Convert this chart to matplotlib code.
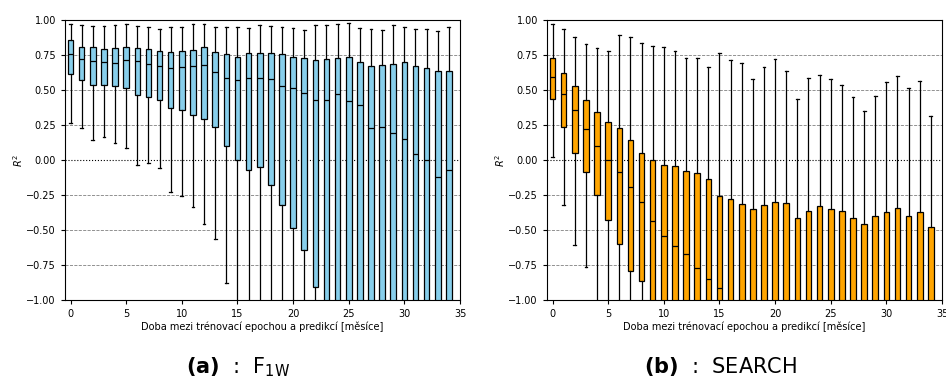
import matplotlib
matplotlib.use('Agg')
import matplotlib.pyplot as plt
import numpy as np

# months between training epoch and prediction
months = list(range(35))

# F_1W (left panel) box statistics
f1w_q3 = [0.857, 0.805, 0.81, 0.795, 0.802, 0.805, 0.80, 0.795, 0.781, 0.769,
          0.776, 0.788, 0.81, 0.774, 0.757, 0.733, 0.762, 0.764, 0.767, 0.755,
          0.736, 0.731, 0.712, 0.719, 0.726, 0.736, 0.70, 0.671, 0.679, 0.686,
          0.70, 0.671, 0.655, 0.636, 0.636]
f1w_med = [0.757, 0.719, 0.71, 0.70, 0.695, 0.717, 0.705, 0.683, 0.669, 0.655,
           0.662, 0.669, 0.681, 0.626, 0.588, 0.569, 0.583, 0.583, 0.576, 0.526,
           0.512, 0.479, 0.429, 0.431, 0.469, 0.421, 0.39, 0.226, 0.236, 0.193,
           0.148, 0.04, 0.002, -0.119, -0.074]
f1w_q1 = [0.614, 0.571, 0.533, 0.538, 0.529, 0.517, 0.462, 0.45, 0.426, 0.371,
          0.36, 0.324, 0.29, 0.236, 0.10, -0.002, -0.074, -0.052, -0.181, -0.324,
          -0.483, -0.645, -0.905, -1.1, -1.15, -1.2, -1.2, -1.3, -1.3, -1.35,
          -1.4, -1.5, -1.5, -1.6, -1.6]
f1w_hi = [0.969, 0.962, 0.955, 0.955, 0.964, 0.971, 0.955, 0.948, 0.938, 0.948,
          0.952, 0.969, 0.974, 0.952, 0.948, 0.948, 0.945, 0.967, 0.955, 0.948,
          0.943, 0.926, 0.964, 0.967, 0.971, 0.981, 0.945, 0.933, 0.931, 0.964,
          0.948, 0.933, 0.936, 0.919, 0.95]
f1w_lo = [0.262, 0.231, 0.143, 0.164, 0.119, 0.086, -0.036, -0.021, -0.055, -0.229,
          -0.255, -0.338, -0.46, -0.567, -0.881, -1.4, -1.5, -1.5, -1.7, -1.9,
          -2.2, -2.5, -2.9, -3.0, -3.0, -3.1, -3.2, -3.3, -3.3, -3.4,
          -3.5, -3.6, -3.6, -3.7, -3.8]

# SEARCH (right panel)
search_q3 = [0.729, 0.619, 0.529, 0.429, 0.340, 0.269, 0.226, 0.14, 0.048, -0.002,
             -0.033, -0.04, -0.076, -0.09, -0.133, -0.26, -0.276, -0.317, -0.35, -0.324,
             -0.298, -0.31, -0.417, -0.367, -0.329, -0.348, -0.367, -0.412, -0.46, -0.398,
             -0.369, -0.343, -0.398, -0.374, -0.476]
search_med = [0.59, 0.471, 0.355, 0.221, 0.102, -0.002, -0.083, -0.195, -0.302, -0.433,
              -0.545, -0.617, -0.671, -0.774, -0.852, -0.912, -1.05, -1.1, -1.15, -1.1,
              -1.1, -1.1, -1.2, -1.2, -1.15, -1.15, -1.2, -1.25, -1.3, -1.25,
              -1.2, -1.2, -1.25, -1.25, -1.35]
search_q1 = [0.438, 0.233, 0.052, -0.088, -0.252, -0.429, -0.602, -0.79, -0.867, -1.1,
             -1.2, -1.3, -1.4, -1.5, -1.6, -1.8, -2.0, -2.1, -2.2, -2.2,
             -2.2, -2.2, -2.4, -2.4, -2.3, -2.3, -2.4, -2.5, -2.6, -2.5,
             -2.4, -2.4, -2.5, -2.5, -2.7]
search_hi = [0.969, 0.933, 0.876, 0.826, 0.802, 0.781, 0.893, 0.881, 0.838, 0.817,
             0.81, 0.781, 0.731, 0.729, 0.662, 0.767, 0.712, 0.695, 0.579, 0.662,
             0.721, 0.636, 0.438, 0.583, 0.607, 0.579, 0.533, 0.448, 0.352, 0.460,
             0.555, 0.598, 0.512, 0.564, 0.317]
search_lo = [0.019, -0.321, -0.607, -0.767, -1.1, -1.3, -1.5, -1.8, -2.0, -2.3,
             -2.5, -2.7, -2.9, -3.0, -3.2, -3.5, -3.8, -4.0, -4.2, -4.2,
             -4.2, -4.2, -4.5, -4.5, -4.4, -4.4, -4.5, -4.7, -4.9, -4.7,
             -4.5, -4.5, -4.7, -4.7, -5.0]

xlabel = 'Doba mezi trénovací epochou a predikcí [měsíce]'
yticks = [-1.0, -0.75, -0.5, -0.25, 0.0, 0.25, 0.5, 0.75, 1.0]


def make_stats(q1, med, q3, lo, hi):
    return [dict(q1=a, med=b, q3=c, whislo=d, whishi=e, fliers=[])
            for a, b, c, d, e in zip(q1, med, q3, lo, hi)]


def draw_panel(ax, stats, color):
    for t in yticks[1:-1]:
        if t == 0.0:
            ax.axhline(t, color='black', ls=':', lw=0.8, zorder=0)
        else:
            ax.axhline(t, color='gray', ls='--', lw=0.6, zorder=0)
    ax.bxp(stats, positions=months, widths=0.5, patch_artist=True, showfliers=False,
           boxprops=dict(facecolor=color, edgecolor='black', linewidth=0.9),
           medianprops=dict(color='black', linewidth=0.9),
           whiskerprops=dict(color='black', linewidth=0.9),
           capprops=dict(color='black', linewidth=0.9))
    ax.set_xlim(-0.5, 35)
    ax.set_ylim(-1, 1)
    ax.set_xticks(range(0, 36, 5))
    ax.set_xticklabels([str(v) for v in range(0, 36, 5)])
    ax.set_yticks(yticks)
    ax.set_yticklabels([f'{v:.2f}'.replace('-', '\u2212') for v in yticks])
    ax.tick_params(labelsize=7, length=3, width=0.8)
    ax.set_xlabel(xlabel, fontsize=7, labelpad=2)
    ax.set_ylabel('$R^2$', fontsize=7, labelpad=1)


fig = plt.figure(figsize=(9.46, 3.8), dpi=100)
ax1 = fig.add_axes([65 / 946, 80 / 380, 395 / 946, 280 / 380])
ax2 = fig.add_axes([547 / 946, 80 / 380, 395 / 946, 280 / 380])

draw_panel(ax1, make_stats(f1w_q1, f1w_med, f1w_q3, f1w_lo, f1w_hi), '#87CEEB')
draw_panel(ax2, make_stats(search_q1, search_med, search_q3, search_lo, search_hi), '#FFA500')

fig.text(238 / 946, 1 - 373 / 380, r'$\mathbf{(a)}$  :  F$_{\mathrm{1W}}$',
         ha='center', va='baseline', fontsize=15)
fig.text(721 / 946, 1 - 373 / 380, r'$\mathbf{(b)}$  :  SEARCH',
         ha='center', va='baseline', fontsize=15)

fig.savefig('out.png', dpi=100)
